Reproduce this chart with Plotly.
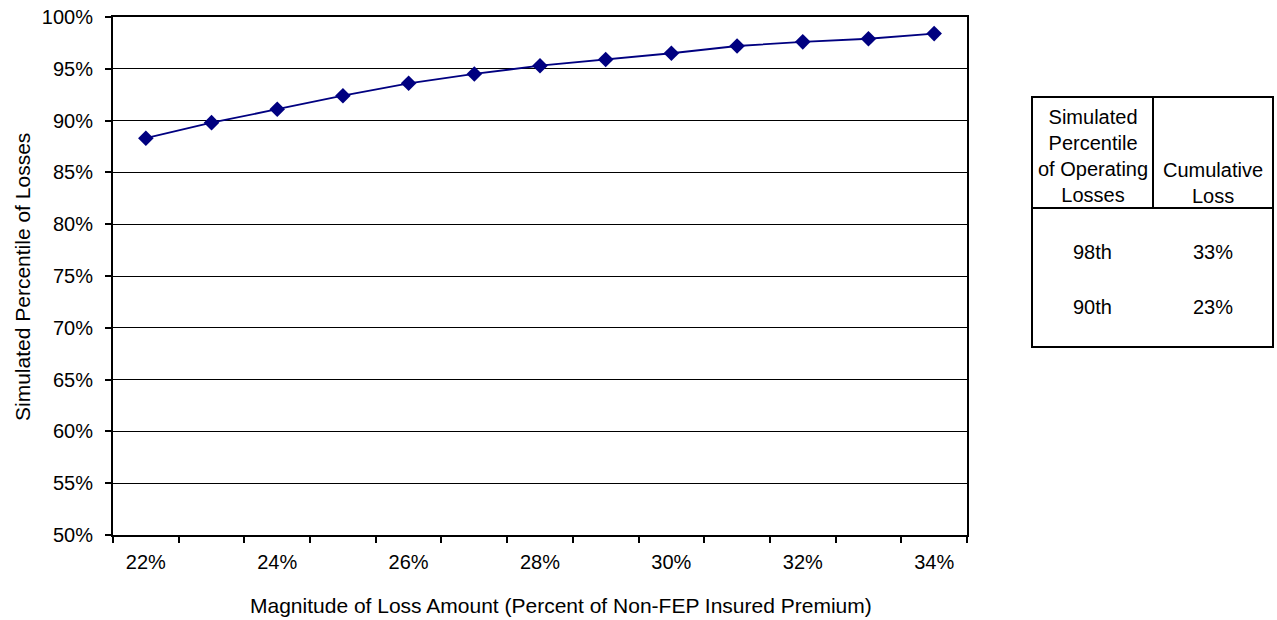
import plotly.graph_objects as go

# Loss magnitude (% of non-FEP insured premium) and simulated percentile
loss_magnitude = [22, 23, 24, 25, 26, 27, 28, 29, 30, 31, 32, 33, 34]
percentile = [88.3, 89.8, 91.1, 92.4, 93.6, 94.5, 95.3, 95.9, 96.5, 97.2, 97.6, 97.9, 98.4]

x_tick_values = [22, 24, 26, 28, 30, 32, 34]
x_tick_labels = ["22%", "24%", "26%", "28%", "30%", "32%", "34%"]
y_tick_values = [50, 55, 60, 65, 70, 75, 80, 85, 90, 95, 100]
y_tick_labels = ["50%", "55%", "60%", "65%", "70%", "75%", "80%", "85%", "90%", "95%", "100%"]

# Summary table
table_header = ["Simulated<br>Percentile<br>of Operating<br>Losses", "Cumulative<br>Loss"]
table_percentiles = ["98th", "90th"]
table_losses = ["33%", "23%"]

W, H = 1277, 620
ML, MR, MT, MB = 113, 310, 17, 85
PW, PH = W - ML - MR, H - MT - MB
FONT = "Liberation Sans, Arial, sans-serif"
NAVY = "#000080"


def px_x(x):
    return (x - ML) / PW


def px_y(y):
    return (H - MB - y) / PH


fig = go.Figure()
fig.add_trace(go.Scatter(
    x=loss_magnitude,
    y=percentile,
    mode="lines+markers",
    line=dict(color=NAVY, width=1.8),
    marker=dict(symbol="diamond", size=12, color=NAVY),
    showlegend=False,
    hoverinfo="x+y",
))

fig.update_xaxes(
    range=[21.5, 34.5],
    tickmode="array",
    tickvals=x_tick_values,
    ticktext=x_tick_labels,
    ticks="",
    ticklabelstandoff=8,
    minor=dict(
        tickmode="array",
        tickvals=[v - 0.5 for v in loss_magnitude] + [loss_magnitude[-1] + 0.5],
        ticks="outside",
        ticklen=6,
        tickwidth=1.5,
        tickcolor="black",
        showgrid=False,
    ),
    showgrid=False,
    zeroline=False,
    showline=True,
    linecolor="black",
    linewidth=2,
    mirror=True,
    tickfont=dict(family=FONT, size=20, color="black"),
)

fig.update_yaxes(
    range=[50, 100],
    tickmode="array",
    tickvals=y_tick_values,
    ticktext=y_tick_labels,
    ticks="outside",
    ticklen=6,
    tickwidth=1.5,
    tickcolor="black",
    ticklabelstandoff=8,
    showgrid=True,
    gridcolor="black",
    gridwidth=1,
    zeroline=False,
    showline=True,
    linecolor="black",
    linewidth=2,
    mirror=True,
    tickfont=dict(family=FONT, size=20, color="black"),
)

annotations = [
    dict(text="Magnitude of Loss Amount (Percent of Non-FEP Insured Premium)",
         x=px_x(561), y=px_y(605), xref="paper", yref="paper",
         xanchor="center", yanchor="middle", showarrow=False,
         font=dict(family=FONT, size=21, color="black")),
    dict(text="Simulated Percentile of Losses",
         x=px_x(22), y=px_y(277), xref="paper", yref="paper",
         xanchor="center", yanchor="middle", showarrow=False, textangle=-90,
         font=dict(family=FONT, size=21, color="black")),
]

# Table frame
t_left, t_mid, t_right = 1032, 1153, 1273
t_top, t_head, t_bottom = 97, 208, 347
col_centers = [(t_left + t_mid) / 2, (t_mid + t_right) / 2]

shapes = [
    dict(type="rect", xref="paper", yref="paper",
         x0=px_x(t_left), x1=px_x(t_right), y0=px_y(t_bottom), y1=px_y(t_top),
         line=dict(color="black", width=2), fillcolor="white", layer="above"),
    dict(type="line", xref="paper", yref="paper",
         x0=px_x(t_mid), x1=px_x(t_mid), y0=px_y(t_head), y1=px_y(t_top),
         line=dict(color="black", width=2)),
    dict(type="line", xref="paper", yref="paper",
         x0=px_x(t_left), x1=px_x(t_right), y0=px_y(t_head), y1=px_y(t_head),
         line=dict(color="black", width=2)),
]

header_centers = [156, 183]
for cx, cy, txt in zip(col_centers, header_centers, table_header):
    annotations.append(dict(
        text=txt, x=px_x(cx), y=px_y(cy), xref="paper", yref="paper",
        xanchor="center", yanchor="middle", showarrow=False, align="center",
        font=dict(family=FONT, size=20, color="black")))

row_centers = [252, 307]
for cy, p, l in zip(row_centers, table_percentiles, table_losses):
    for cx, txt in zip(col_centers, [p, l]):
        annotations.append(dict(
            text=txt, x=px_x(cx), y=px_y(cy), xref="paper", yref="paper",
            xanchor="center", yanchor="middle", showarrow=False,
            font=dict(family=FONT, size=20, color="black")))

fig.update_layout(
    width=W,
    height=H,
    margin=dict(l=ML, r=MR, t=MT, b=MB, autoexpand=False),
    paper_bgcolor="white",
    plot_bgcolor="white",
    font=dict(family=FONT, size=20, color="black"),
    shapes=shapes,
    annotations=annotations,
)

fig.write_html("out.html")
